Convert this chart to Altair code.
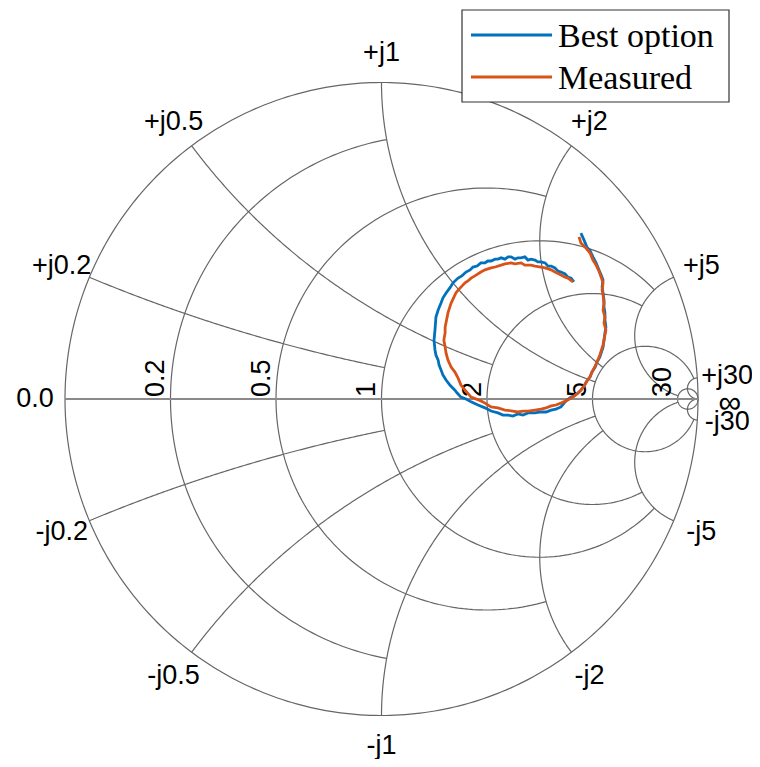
import altair as alt
import numpy as np
import pandas as pd

alt.data_transformers.disable_max_rows()

# ---------------- data (reflection coefficient: real / imaginary parts) ----------------
SERIES = ["Best option", "Measured"]
COLORS = ["#0072BD", "#D95319"]

BEST_RE = [0.630, 0.640, 0.649, 0.659, 0.668, 0.678, 0.687, 0.694, 0.700, 0.697,
           0.700, 0.703, 0.703, 0.706, 0.706, 0.709, 0.706, 0.703, 0.700, 0.690,
           0.681, 0.675, 0.665, 0.659, 0.649, 0.640, 0.630, 0.621, 0.608, 0.599,
           0.583, 0.567, 0.551, 0.536, 0.520, 0.504, 0.485, 0.463, 0.447, 0.431,
           0.415, 0.400, 0.384, 0.368, 0.346, 0.327, 0.305, 0.283, 0.267, 0.251,
           0.239, 0.232, 0.216, 0.204, 0.194, 0.188, 0.182, 0.179, 0.172, 0.169,
           0.166, 0.169, 0.172, 0.179, 0.188, 0.194, 0.204, 0.216, 0.226, 0.242,
           0.254, 0.267, 0.280, 0.289, 0.302, 0.314, 0.327, 0.336, 0.346, 0.359,
           0.368, 0.378, 0.390, 0.400, 0.409, 0.422, 0.431, 0.441, 0.453, 0.463,
           0.472, 0.485, 0.494, 0.504, 0.517, 0.526, 0.536, 0.548, 0.558, 0.567,
           0.580, 0.589, 0.599, 0.608]
BEST_IM = [0.524, 0.502, 0.480, 0.468, 0.449, 0.430, 0.408, 0.392, 0.376, 0.354,
           0.335, 0.313, 0.291, 0.272, 0.250, 0.227, 0.209, 0.186, 0.164, 0.133,
           0.117, 0.101, 0.085, 0.070, 0.057, 0.041, 0.028, 0.019, 0.009, 0.006,
           -0.006, -0.025, -0.032, -0.035, -0.041, -0.041, -0.044, -0.044, -0.051, -0.047,
           -0.054, -0.051, -0.051, -0.044, -0.038, -0.028, -0.019, -0.009, 0.000, 0.006,
           0.019, 0.028, 0.044, 0.060, 0.076, 0.092, 0.107, 0.123, 0.139, 0.155,
           0.186, 0.218, 0.259, 0.281, 0.303, 0.319, 0.335, 0.351, 0.367, 0.382,
           0.389, 0.401, 0.408, 0.417, 0.420, 0.430, 0.430, 0.436, 0.436, 0.442,
           0.442, 0.446, 0.442, 0.449, 0.449, 0.442, 0.446, 0.446, 0.449, 0.439,
           0.442, 0.439, 0.433, 0.433, 0.430, 0.420, 0.420, 0.414, 0.404, 0.401,
           0.395, 0.385, 0.382, 0.370]

MEAS_RE = [0.624, 0.630, 0.646, 0.659, 0.668, 0.678, 0.687, 0.694, 0.700, 0.697,
           0.700, 0.703, 0.700, 0.706, 0.703, 0.709, 0.706, 0.703, 0.700, 0.690,
           0.681, 0.675, 0.665, 0.659, 0.649, 0.640, 0.630, 0.621, 0.608, 0.599,
           0.583, 0.567, 0.551, 0.536, 0.520, 0.504, 0.485, 0.463, 0.447, 0.431,
           0.415, 0.390, 0.368, 0.346, 0.327, 0.314, 0.283, 0.264, 0.251, 0.242,
           0.232, 0.220, 0.210, 0.204, 0.201, 0.197, 0.201, 0.201, 0.210, 0.216,
           0.220, 0.235, 0.242, 0.264, 0.273, 0.283, 0.295, 0.314, 0.327, 0.346,
           0.359, 0.378, 0.390, 0.409, 0.422, 0.441, 0.453, 0.472, 0.485, 0.504,
           0.517, 0.536, 0.548, 0.567, 0.580, 0.589, 0.605]
MEAS_IM = [0.512, 0.493, 0.477, 0.461, 0.439, 0.423, 0.404, 0.385, 0.367, 0.344,
           0.329, 0.303, 0.281, 0.259, 0.240, 0.218, 0.202, 0.186, 0.171, 0.139,
           0.117, 0.104, 0.085, 0.070, 0.057, 0.041, 0.028, 0.019, 0.009, 0.003,
           -0.006, -0.013, -0.019, -0.022, -0.028, -0.032, -0.035, -0.038, -0.038, -0.041,
           -0.038, -0.035, -0.028, -0.025, -0.013, -0.006, 0.006, 0.028, 0.044, 0.066,
           0.085, 0.101, 0.123, 0.145, 0.164, 0.186, 0.209, 0.227, 0.272, 0.291,
           0.303, 0.335, 0.344, 0.367, 0.373, 0.382, 0.389, 0.401, 0.408, 0.414,
           0.417, 0.423, 0.427, 0.430, 0.427, 0.430, 0.423, 0.423, 0.420, 0.417,
           0.414, 0.408, 0.401, 0.392, 0.385, 0.382, 0.370]

# Smith chart grid: circle values and the circle at which each one stops
GRID_VALUES = [0.2, 0.5, 1, 2, 5, 30]
GRID_LIMITS = [1, 2, 5, 5, 30, np.inf]
R_LABELS = ["0.2", "0.5", "1", "2", "5", "30"]
X_LABELS = ["0.0", "+j0.2", "+j0.5", "+j1", "+j2", "+j5", "+j30",
            "-j30", "-j5", "-j2", "-j1", "-j0.5", "-j0.2"]
X_LABEL_VALUES = [0, 0.2, 0.5, 1, 2, 5, 30, -30, -5, -2, -1, -0.5, -0.2]
INF_LABEL = "\u221e"

# ---------------- layout ----------------
W, H = 744, 751
CX, CY, RPX = 373.5, 391.0, 316.5
XDOM = [-CX / RPX, (W - CX) / RPX]
YDOM = [-(H - CY) / RPX, CY / RPX]
GRID_COLOR = "#666666"
AXIS_COLOR = "#8a8a8a"
FONT = "Liberation Sans"
SERIF = "Liberation Serif"
N = 160


def gam(z):
    return (z - 1) / (z + 1)


rows = []
arc_id = 0


def add(u, v):
    global arc_id
    for k, (a, b) in enumerate(zip(u, v)):
        rows.append({"u": float(a), "v": float(b), "arc": arc_id, "ord": k})
    arc_id += 1


# outer circle (r = 0)
t = np.linspace(0, 2 * np.pi, 400)
add(np.cos(t), np.sin(t))

for val, lim in zip(GRID_VALUES, GRID_LIMITS):
    # constant resistance circle
    c, rad = val / (1 + val), 1 / (1 + val)
    if np.isinf(lim):
        t0 = 0.0
    else:
        g = gam(val + 1j * lim)
        t0 = np.arctan2(g.imag, g.real - c)
    t = np.linspace(t0, 2 * np.pi - t0, N)
    add(c + rad * np.cos(t), rad * np.sin(t))
    # constant reactance arcs (+ and -)
    xc, xr = 1.0, 1.0 / val
    gb = gam(1j * val)
    pb = np.mod(np.arctan2(gb.imag - xr, gb.real - xc), 2 * np.pi)
    if np.isinf(lim):
        pe = 1.5 * np.pi
    else:
        ge = gam(lim + 1j * val)
        pe = np.mod(np.arctan2(ge.imag - xr, ge.real - xc), 2 * np.pi)
    p = np.linspace(pb, pe, N)
    uu = xc + xr * np.cos(p)
    vv = xr + xr * np.sin(p)
    add(uu, vv)
    add(uu, -vv)

grid_df = pd.DataFrame(rows)
axis_df = pd.DataFrame({"u": [-1.0, 1.0], "v": [0.0, 0.0]})

curve_df = pd.concat([
    pd.DataFrame({"u": BEST_RE, "v": BEST_IM, "series": SERIES[0],
                  "ord": range(len(BEST_RE))}),
    pd.DataFrame({"u": MEAS_RE, "v": MEAS_IM, "series": SERIES[1],
                  "ord": range(len(MEAS_RE))}),
])

# resistance labels (rotated, just left of each circle on the real axis)
r_df = pd.DataFrame({
    "label": R_LABELS,
    "u": [(r - 1) / (r + 1) - 6.5 / RPX for r in GRID_VALUES],
    "v": [2.0 / RPX] * len(GRID_VALUES),
})

# reactance labels (outside the rim)
LAB_R = 1 + 30.0 / RPX
xl_u, xl_v = [], []
for xv in X_LABEL_VALUES:
    g = gam(1j * xv)
    xl_u.append(g.real * LAB_R)
    xl_v.append(g.imag * LAB_R)
x_df = pd.DataFrame({"label": X_LABELS, "u": xl_u, "v": xl_v})
inf_df = pd.DataFrame({"label": [INF_LABEL], "u": [LAB_R], "v": [0.0]})

xs = alt.Scale(domain=XDOM, nice=False, zero=False)
ys = alt.Scale(domain=YDOM, nice=False, zero=False)
X = alt.X("u:Q", scale=xs, axis=None)
Y = alt.Y("v:Q", scale=ys, axis=None)

grid = alt.Chart(grid_df).mark_line(color=GRID_COLOR, strokeWidth=1.2).encode(
    x=X, y=Y, detail="arc:N", order="ord:Q")
axis_line = alt.Chart(axis_df).mark_line(color=AXIS_COLOR, strokeWidth=2).encode(x=X, y=Y)

curves = alt.Chart(curve_df).mark_line(strokeWidth=2.8).encode(
    x=X, y=Y, order="ord:Q",
    color=alt.Color("series:N", scale=alt.Scale(domain=SERIES, range=COLORS), legend=None),
)

r_text = alt.Chart(r_df).mark_text(
    angle=270, align="left", baseline="alphabetic", font=FONT, fontSize=27, color="black",
).encode(x=X, y=Y, text="label:N")

x_text = alt.Chart(x_df).mark_text(
    align="center", baseline="middle", font=FONT, fontSize=27, color="black",
).encode(x=X, y=Y, text="label:N")

inf_text = alt.Chart(inf_df).mark_text(
    align="center", baseline="middle", font=FONT, fontSize=32, color="black", dy=4, dx=2,
).encode(x=X, y=Y, text="label:N")

# legend box (upper right), drawn as marks in pixel space
one = pd.DataFrame({"k": [0]})
legend_layers = [
    alt.Chart(one).mark_rect(fill="white", stroke="#333333", strokeWidth=1.2).encode(
        x=alt.value(454), x2=alt.value(721), y=alt.value(2), y2=alt.value(94))
]
for i, (name, col) in enumerate(zip(SERIES, COLORS)):
    ly = 27 + 42 * i
    legend_layers.append(
        alt.Chart(one).mark_rule(color=col, strokeWidth=2.8).encode(
            x=alt.value(463), x2=alt.value(544), y=alt.value(ly)))
    legend_layers.append(
        alt.Chart(one).mark_text(align="left", baseline="alphabetic", font=SERIF,
                                 fontSize=34, color="black").encode(
            x=alt.value(550), y=alt.value(ly + 12), text=alt.value(name)))

chart = alt.layer(grid, axis_line, r_text, x_text, inf_text, curves, *legend_layers).properties(
    width=W, height=H, autosize=alt.AutoSizeParams(type="none"), padding=0,
).configure_view(stroke=None)

chart.save("out.html", embed_options={"renderer": "svg", "actions": False})
